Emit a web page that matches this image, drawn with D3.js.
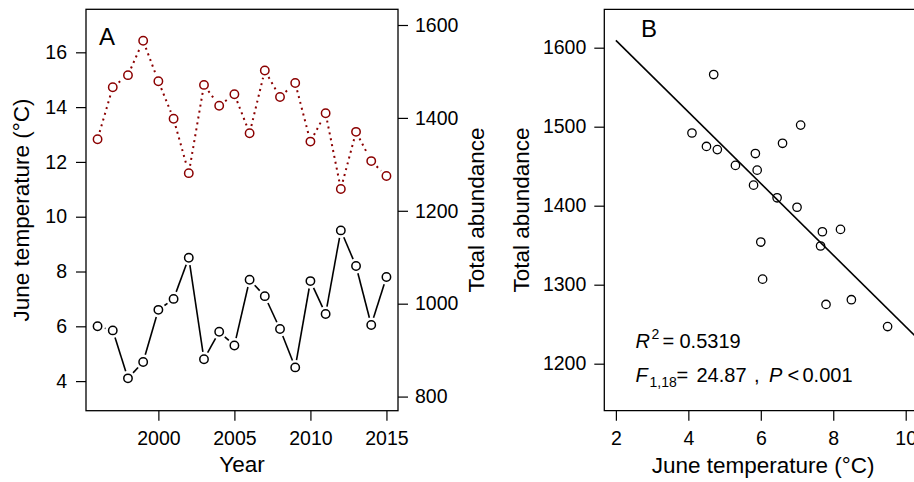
<!DOCTYPE html>
<html>
<head>
<meta charset="utf-8">
<script src="https://cdn.jsdelivr.net/npm/d3@7"></script>
<style>
  body { margin: 0; background: white; }
  svg { display: block; font-family: 'Liberation Sans', Arial, sans-serif; }
</style>
</head>
<body>
<svg width="914" height="482"></svg>
<script>
const years = d3.range(1996, 2016)
const juneTemp = [6.0, 5.85, 4.1, 4.7, 6.6, 7.0, 8.5, 4.8, 5.8, 5.3,
  7.7, 7.1, 5.9, 4.5, 7.65, 6.45, 9.5, 8.2, 6.05, 7.8]
const abundance = [1354, 1466, 1492, 1566, 1479, 1398, 1281, 1471, 1426, 1451,
  1367, 1502, 1445, 1475, 1349, 1410, 1247, 1370, 1307, 1275]

const yearTicks = [2000, 2005, 2010, 2015]
const tempTicks = [4, 6, 8, 10, 12, 14, 16]
const abundTicks = [800, 1000, 1200, 1400, 1600]
const scatterXTicks = [2, 4, 6, 8, 10]
const scatterYTicks = [1200, 1300, 1400, 1500, 1600]

const red = '#8b0000'
const tickFont = '19.5px'
const titleFont = '22.5px'
const plain = d3.format('d')

const svg = d3.select('svg')

// panel boxes
const A = { left: 86, right: 398, top: 9.3, bottom: 410.7 }
const B = { left: 604.3, right: 917.3, top: 9.3, bottom: 410.7 }

const xYear = d3.scaleLinear().domain([1995.24, 2015.76]).range([A.left, A.right])
const yTemp = d3.scaleLinear().domain([2.92, 17.57]).range([A.bottom, A.top])
const yAbund = d3.scaleLinear().domain([769.6, 1633.8]).range([A.bottom, A.top])

const xT = d3.scaleLinear().domain([1.68, 10.32]).range([B.left, B.right])
const yN = d3.scaleLinear().domain([1140.5, 1648.6]).range([B.bottom, B.top])

const styleAxis = g => {
  g.select('.domain').remove()
  g.selectAll('.tick line').attr('stroke', '#000').attr('stroke-width', 1.2)
  g.selectAll('.tick text')
    .attr('font-size', tickFont)
    .attr('font-family', 'Liberation Sans, Arial, sans-serif')
    .attr('fill', '#000')
  return g
}

// R type="b": segments with a gap around every point
const gappedSegments = (pts, gap) => {
  const segs = []
  for (let i = 1; i < pts.length; i++) {
    const [x0, y0] = pts[i - 1], [x1, y1] = pts[i]
    const len = Math.hypot(x1 - x0, y1 - y0)
    if (len <= 2 * gap) continue
    const ux = (x1 - x0) / len, uy = (y1 - y0) / len
    segs.push([x0 + ux * gap, y0 + uy * gap, x1 - ux * gap, y1 - uy * gap])
  }
  return segs
}

const drawSeries = (g, pts, color, dash, width) => {
  g.append('g').selectAll('line')
    .data(gappedSegments(pts, 7.5))
    .join('line')
    .attr('x1', d => d[0]).attr('y1', d => d[1])
    .attr('x2', d => d[2]).attr('y2', d => d[3])
    .attr('stroke', color)
    .attr('stroke-width', width)
    .attr('stroke-dasharray', dash)
  g.append('g').selectAll('circle')
    .data(pts)
    .join('circle')
    .attr('cx', d => d[0]).attr('cy', d => d[1])
    .attr('r', 4.2)
    .attr('fill', 'none')
    .attr('stroke', color)
    .attr('stroke-width', 1.5)
}

// ---- panel A
const gA = svg.append('g')

gA.append('g')
  .attr('transform', `translate(0,${A.bottom})`)
  .call(d3.axisBottom(xYear).tickValues(yearTicks).tickFormat(plain).tickSize(10).tickPadding(10))
  .call(styleAxis)

gA.append('g')
  .attr('transform', `translate(${A.left},0)`)
  .call(d3.axisLeft(yTemp).tickValues(tempTicks).tickFormat(plain).tickSize(10).tickPadding(9))
  .call(styleAxis)

gA.append('g')
  .attr('transform', `translate(${A.right},0)`)
  .call(d3.axisRight(yAbund).tickValues(abundTicks).tickFormat(plain).tickSize(10).tickPadding(7))
  .call(styleAxis)

drawSeries(gA, years.map((y, i) => [xYear(y), yAbund(abundance[i])]), red, '2 4', 2)
drawSeries(gA, years.map((y, i) => [xYear(y), yTemp(juneTemp[i])]), '#000', null, 1.6)

gA.append('rect')
  .attr('x', A.left).attr('y', A.top)
  .attr('width', A.right - A.left).attr('height', A.bottom - A.top)
  .attr('fill', 'none').attr('stroke', '#000').attr('stroke-width', 1.3)

gA.append('text').text('A')
  .attr('x', 99).attr('y', 45)
  .attr('font-size', '24px')

gA.append('text').text('Year')
  .attr('x', (A.left + A.right) / 2).attr('y', 472)
  .attr('text-anchor', 'middle').attr('font-size', titleFont)

gA.append('text').text('June temperature (°C)')
  .attr('transform', `translate(28.5,${(A.top + A.bottom) / 2}) rotate(-90)`)
  .attr('text-anchor', 'middle').attr('font-size', titleFont)

gA.append('text').text('Total abundance')
  .attr('transform', `translate(483.5,${(A.top + A.bottom) / 2}) rotate(-90)`)
  .attr('text-anchor', 'middle').attr('font-size', titleFont)

// ---- panel B
const gB = svg.append('g')

gB.append('g')
  .attr('transform', `translate(0,${B.bottom})`)
  .call(d3.axisBottom(xT).tickValues(scatterXTicks).tickFormat(plain).tickSize(10).tickPadding(10))
  .call(styleAxis)

gB.append('g')
  .attr('transform', `translate(${B.left},0)`)
  .call(d3.axisLeft(yN).tickValues(scatterYTicks).tickFormat(plain).tickSize(10).tickPadding(8))
  .call(styleAxis)

// least squares fit of abundance on temperature
const mx = d3.mean(juneTemp), my = d3.mean(abundance)
const sxy = d3.sum(juneTemp, (t, i) => (t - mx) * (abundance[i] - my))
const sxx = d3.sum(juneTemp, t => (t - mx) ** 2)
const slope = sxy / sxx
const intercept = my - slope * mx
const fitX = [2, xT.domain()[1]]

gB.append('line')
  .attr('x1', xT(fitX[0])).attr('y1', yN(intercept + slope * fitX[0]))
  .attr('x2', xT(fitX[1])).attr('y2', yN(intercept + slope * fitX[1]))
  .attr('stroke', '#000').attr('stroke-width', 1.6)

gB.append('g').selectAll('circle')
  .data(juneTemp.map((t, i) => [t, abundance[i]]))
  .join('circle')
  .attr('cx', d => xT(d[0])).attr('cy', d => yN(d[1]))
  .attr('r', 4.2)
  .attr('fill', 'none').attr('stroke', '#000').attr('stroke-width', 1.3)

gB.append('path')
  .attr('d', `M${B.right},${B.top}H${B.left}V${B.bottom}H${B.right}`)
  .attr('fill', 'none').attr('stroke', '#000').attr('stroke-width', 1.3)

gB.append('text').text('B')
  .attr('x', 641).attr('y', 37)
  .attr('font-size', '24px')

gB.append('text').text('June temperature (°C)')
  .attr('x', (B.left + 914) / 2 + 4).attr('y', 473)
  .attr('text-anchor', 'middle').attr('font-size', titleFont)

gB.append('text').text('Total abundance')
  .attr('transform', `translate(528.5,${(B.top + B.bottom) / 2}) rotate(-90)`)
  .attr('text-anchor', 'middle').attr('font-size', titleFont)

// statistics text
const stat = (parts, y) => {
  parts.forEach(p => {
    gB.append('text').text(p.t)
      .attr('x', p.x).attr('y', y + (p.dy || 0))
      .attr('font-size', p.size || '20px')
      .attr('font-style', p.italic ? 'italic' : null)
  })
}
stat([
  { t: 'R', x: 635.5, italic: true },
  { t: '2', x: 651.5, dy: -9, size: '14px' },
  { t: '=', x: 662.5 },
  { t: '0.5319', x: 679.5 }
], 348)
stat([
  { t: 'F', x: 635.5, italic: true },
  { t: '1,18', x: 649.5, dy: 5, size: '14px' },
  { t: '=', x: 676.5 },
  { t: '24.87', x: 696.5 },
  { t: ',', x: 754 },
  { t: 'P', x: 769, italic: true },
  { t: '<', x: 787.5 },
  { t: '0.001', x: 802.5 }
], 382)
</script>
</body>
</html>
